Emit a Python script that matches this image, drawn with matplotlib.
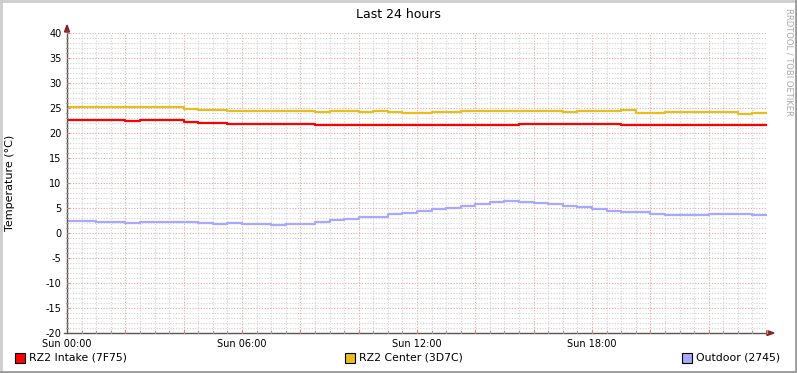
import matplotlib
matplotlib.use("Agg")
import matplotlib.pyplot as plt
from matplotlib.patches import Rectangle, Polygon
from matplotlib.lines import Line2D
import numpy as np

# ---- data (half-hourly readings, hours since Sun 00:00) ----
hours = [i * 0.5 for i in range(49)]

intake = [22.6, 22.7, 22.6, 22.6, 22.5, 22.6, 22.6, 22.6,
          22.3, 22.1, 22.0, 21.9, 21.9, 21.8, 21.8, 21.8,
          21.8, 21.7, 21.7, 21.7, 21.6, 21.6, 21.7, 21.6,
          21.7, 21.7, 21.7, 21.7, 21.7, 21.7, 21.7, 21.8,
          21.8, 21.8, 21.8, 21.8, 21.8, 21.8, 21.7, 21.7,
          21.6, 21.6, 21.6, 21.6, 21.6, 21.6, 21.6, 21.6, 21.6]

center = [25.2, 25.3, 25.2, 25.2, 25.3, 25.2, 25.2, 25.3,
          24.8, 24.7, 24.6, 24.5, 24.5, 24.4, 24.5, 24.4,
          24.4, 24.3, 24.4, 24.4, 24.3, 24.4, 24.2, 24.1,
          24.1, 24.2, 24.2, 24.4, 24.4, 24.4, 24.4, 24.4,
          24.4, 24.4, 24.3, 24.4, 24.4, 24.5, 24.6, 24.1,
          24.1, 24.2, 24.2, 24.3, 24.3, 24.2, 23.9, 24.1, 24.1]

outdoor = [2.4, 2.4, 2.3, 2.3, 2.1, 2.2, 2.2, 2.3,
           2.2, 2.1, 1.9, 2.0, 1.9, 1.8, 1.7, 1.8,
           1.8, 2.2, 2.6, 2.9, 3.2, 3.3, 3.8, 4.1,
           4.5, 4.8, 5.1, 5.5, 5.9, 6.2, 6.5, 6.3,
           6.1, 5.8, 5.5, 5.2, 4.8, 4.4, 4.3, 4.2,
           3.8, 3.7, 3.7, 3.7, 3.8, 3.9, 3.9, 3.7, 3.7]

series_names = ["RZ2 Intake (7F75)", "RZ2 Center (3D7C)", "Outdoor (2745)"]
series_colors = ["#FF0000", "#E8BE1C", "#A8A8FF"]
xtick_pos = [0, 6, 12, 18]
xtick_labels = ["Sun 00:00", "Sun 06:00", "Sun 12:00", "Sun 18:00"]
ytick_vals = list(range(-20, 41, 5))

W, H = 797, 373
fig = plt.figure(figsize=(W / 100, H / 100), dpi=100)
fig.patch.set_facecolor("white")

def fx(px):
    return px / W

def fy(py):
    return 1 - py / H

ax = fig.add_axes([fx(67), fy(333), fx(767) - fx(67), fy(33) - fy(333)])
ax.set_facecolor("white")
ax.set_xlim(0, 24)
ax.set_ylim(-20, 40)

major_col = "#E6A4A4"
minor_col = "#D2D2D2"
# grid
for h in np.arange(0.5, 24.01, 0.5):
    major = abs(h / 2 - round(h / 2)) < 1e-9
    ax.axvline(h, color=major_col if major else minor_col,
               lw=0.8, ls=(0, (1, 1.5)), zorder=1)
for v in range(-19, 41):
    major = v % 5 == 0
    ax.axhline(v, color=major_col if major else minor_col,
               lw=0.8, ls=(0, (1, 1.5)), zorder=1)

for vals, col in zip([intake, center, outdoor], series_colors):
    ax.plot(hours, vals, color=col, lw=1.6, drawstyle="steps-post",
            zorder=3, solid_capstyle="butt")

for s in ax.spines.values():
    s.set_visible(False)

ax.set_xticks(xtick_pos)
ax.set_xticklabels(xtick_labels, fontsize=7, color="#000000")
ax.set_yticks(ytick_vals)
ax.set_yticklabels([str(v) for v in ytick_vals], fontsize=7, color="#000000")
ax.tick_params(axis="x", length=0, pad=4)
ax.tick_params(axis="y", length=0, pad=4)

fig.text(fx(10), fy(183), "Temperature (°C)", rotation=90, ha="center",
         va="center", fontsize=8)

# axis lines with arrows (figure pixel coords)
axis_col = "#605050"
arrow_col = "#902020"
fig.add_artist(Line2D([fx(67), fx(67)], [fy(333), fy(30)], color=axis_col, lw=1))
fig.add_artist(Line2D([fx(64), fx(768)], [fy(333), fy(333)], color=axis_col, lw=1))
fig.add_artist(Polygon([[fx(64.5), fy(32)], [fx(69.5), fy(32)], [fx(67), fy(25)]],
                       closed=True, color=arrow_col))
fig.add_artist(Polygon([[fx(767), fy(330.5)], [fx(767), fy(335.5)], [fx(774), fy(333)]],
                       closed=True, color=arrow_col))

# small ticks on axes
for h in np.arange(0.5, 24.01, 0.5):
    x = 67 + h * 700 / 24
    major = abs(h / 2 - round(h / 2)) < 1e-9
    fig.add_artist(Line2D([fx(x), fx(x)], [fy(333), fy(331 if not major else 330)],
                          color="#E08080" if major else "#A0A0A0", lw=0.8))
for v in range(-19, 41):
    y = 333 - (v + 20) * 5
    major = v % 5 == 0
    fig.add_artist(Line2D([fx(67 if major else 66), fx(69 if major else 68)], [fy(y), fy(y)],
                          color="#E08080" if major else "#A0A0A0", lw=0.8))

# title
fig.text(fx(398), fy(14), "Last 24 hours", ha="center", va="center", fontsize=9)

# watermark
fig.text(fx(789), fy(62), "RRDTOOL / TOBI OETIKER", rotation=270, ha="center",
         va="center", fontsize=6, color="#A8A8A8")

# legend
leg_x = [15, 345, 682]
for lx, name, col in zip(leg_x, series_names, series_colors):
    fig.add_artist(Rectangle((fx(lx), fy(363)), 10 / W, 10 / H, facecolor=col,
                             edgecolor="black", lw=0.8))
    fig.text(fx(lx + 14), fy(358), name, ha="left", va="center", fontsize=7.8)

# frame
fig.add_artist(Line2D([0, 1], [fy(1), fy(1)], color="#CCCCCC", lw=2))
fig.add_artist(Line2D([fx(1), fx(1)], [0, 1], color="#CCCCCC", lw=2))
fig.add_artist(Line2D([0, 1], [fy(372), fy(372)], color="#9A9A9A", lw=2))
fig.add_artist(Line2D([fx(796), fx(796)], [0, 1], color="#9A9A9A", lw=2))

fig.savefig("out.png", dpi=100, facecolor="white")
